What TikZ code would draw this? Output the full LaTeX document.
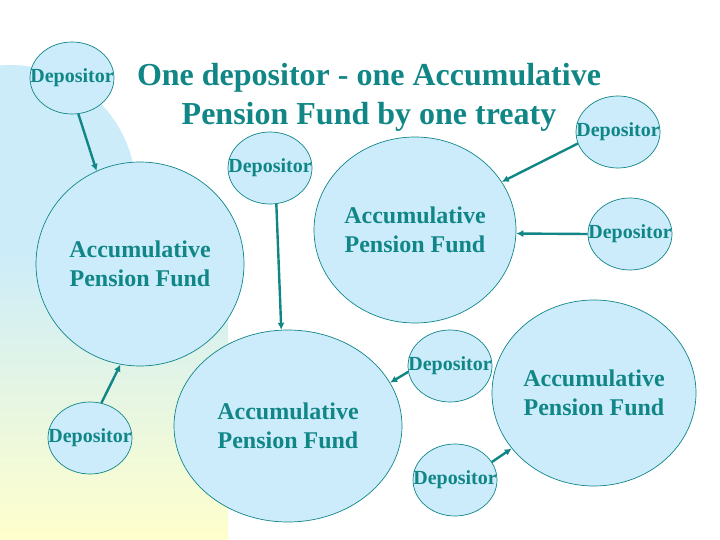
\documentclass[tikz,border=0pt]{standalone}
\usepackage{fontspec}
\setmainfont{Liberation Serif}
\usetikzlibrary{arrows.meta,shapes.geometric}
\definecolor{fundteal}{RGB}{16,134,134}
\definecolor{fundblue}{RGB}{204,236,252}
\definecolor{backblue}{RGB}{204,236,250}
\definecolor{backyellow}{RGB}{255,255,204}

\begin{document}
\begin{tikzpicture}[x=1pt, y=-1pt,
    depositor/.style={ellipse, draw=fundteal, line width=0.7pt, fill=fundblue,
        inner sep=0pt, minimum width=84pt, minimum height=72pt, text=fundteal,
        font=\bfseries\fontsize{20}{24}\selectfont},
    fund/.style={ellipse, draw=fundteal, line width=0.7pt, fill=fundblue,
        inner sep=0pt, text=fundteal, align=center,
        font=\bfseries\fontsize{24}{29}\selectfont},
    link/.style={line width=2.4pt, color=fundteal, -{Latex[length=7pt,width=7pt]}}]
                \useasboundingbox (0,0) rectangle (720,540);
                \fill[white] (0,0) rectangle (720,540);
                \fill[backblue] (10,191) circle[radius=126];
                \shade[top color=backblue, bottom color=backyellow, middle color=backblue!50!backyellow]
                    (0,250) rectangle (228,540);

                \node[text=fundteal, align=center, font=\bfseries\fontsize{32}{39}\selectfont]
                    (title) at (369,97) {One depositor - one Accumulative\\Pension Fund by one treaty};

                \node[fund, minimum width=208pt, minimum height=204pt] (leftfund) at (140,264) {Accumulative\\Pension Fund};
                \node[fund, minimum width=202pt, minimum height=186pt] (topfund) at (415,230) {Accumulative\\Pension Fund};
                \node[fund, minimum width=228pt, minimum height=192pt] (lowfund) at (288,426) {Accumulative\\Pension Fund};
                \node[fund, minimum width=204pt, minimum height=186pt] (rightfund) at (594,393) {Accumulative\\Pension Fund};

                \node[depositor] (depA) at (72,78) {\makebox[0pt]{Depositor}};
                \node[depositor] (depB) at (618,132) {\makebox[0pt]{Depositor}};
                \node[depositor] (depC) at (270,168) {\makebox[0pt]{Depositor}};
                \node[depositor] (depD) at (630,234) {\makebox[0pt]{Depositor}};
                \node[depositor] (depE) at (90,438) {\makebox[0pt]{Depositor}};
                \node[depositor] (depF) at (450,366) {\makebox[0pt]{Depositor}};
                \node[depositor] (depG) at (455,480) {\makebox[0pt]{Depositor}};

                \draw[link] (depA.-80) -- (leftfund.115);
                \draw[link] (depC.-80) -- (lowfund.94);
                \draw[link] (depB.196) -- (topfund.29);
                \draw[link] (depD.180) -- (topfund.-2);
                \draw[link] (depE.72) -- (leftfund.-101);
                \draw[link] (depF.188) -- (lowfund.23);
                \draw[link] (depG.26) -- (rightfund.214);
            \end{tikzpicture}
\end{document}
